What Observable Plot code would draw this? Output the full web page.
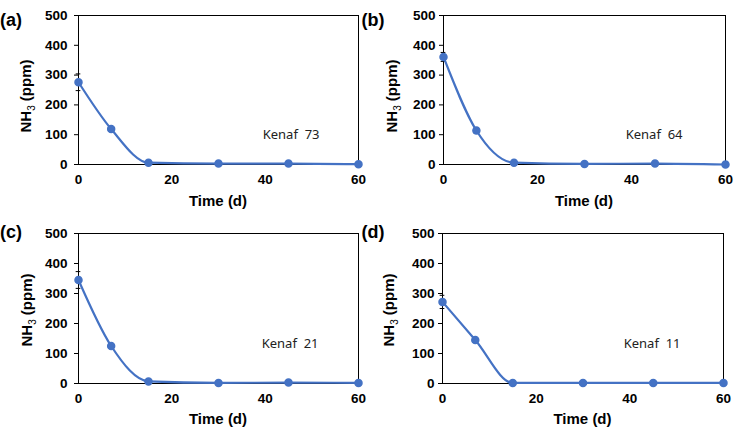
<!DOCTYPE html>
<html><head><meta charset="utf-8">
<script src="https://cdn.jsdelivr.net/npm/d3@7"></script>
<script src="https://cdn.jsdelivr.net/npm/@observablehq/plot@0.6"></script>
<style>
body{margin:0;background:#fff;}
#chart{position:relative;width:746px;height:445px;background:#fff;}
#chart svg{position:absolute;}
</style></head><body><div id="chart"></div>
<script>
// ---- data ----
const days = [0, 7, 15, 30, 45, 60];
const panelIds = ["(a)", "(b)", "(c)", "(d)"];
const varieties = ["Kenaf\u00a0\u00a073", "Kenaf\u00a0\u00a064", "Kenaf\u00a0\u00a021", "Kenaf\u00a0\u00a011"];
const nh3A = [276, 119, 6, 3, 3, 1];
const nh3B = [361, 114, 6, 2, 3, 0];
const nh3C = [345, 125, 7, 2, 3, 2];
const nh3D = [272, 145, 2, 2, 2, 2];
const errA = [28, 8, 2, 1, 1, 1];
const errB = [15, 8, 2, 1, 1, 1];
const errC = [28, 8, 2, 1, 1, 1];
const errD = [22, 8, 2, 1, 1, 1];
const yTicks = [0, 100, 200, 300, 400, 500];
const xTicks = [0, 20, 40, 60];
const xLabel = "Time (d)";

const seriesValues = [nh3A, nh3B, nh3C, nh3D];
const seriesErrors = [errA, errB, errC, errD];

// ---- layout (styles) ----
const layouts = [
  {left:0,   top:0,   w:373, h:222, ml:78, mr:15, mt:15, mb:58, ypad:7, xpad:10, tdx:-39, tdy:-26, timeY:202, nhX:31, nhY:96,  idX:11, idY:21},
  {left:373, top:0,   w:373, h:222, ml:70, mr:21, mt:15, mb:58, ypad:4, xpad:10, tdx:-43, tdy:-26, timeY:202, nhX:24, nhY:96,  idX:0,  idY:21},
  {left:0,   top:222, w:373, h:223, ml:78, mr:15, mt:11, mb:62, ypad:7, xpad:10, tdx:-40, tdy:-36, timeY:198, nhX:32, nhY:88,  idX:11, idY:11},
  {left:373, top:222, w:373, h:223, ml:69, mr:23, mt:11, mb:62, ypad:4, xpad:10, tdx:-43, tdy:-36, timeY:198, nhX:21, nhY:88,  idX:0,  idY:11}
];

const blue = "#4472C4";
const chart = document.getElementById("chart");

seriesValues.forEach((vals, k) => {
  const L = layouts[k];
  const errs = seriesErrors[k];
  const data = days.map((d, i) => ({day: d, v: vals[i], e: errs[i]}));
  const svg = Plot.plot({
    width: L.w, height: L.h,
    marginLeft: L.ml, marginRight: L.mr, marginTop: L.mt, marginBottom: L.mb,
    style: {fontFamily: "'Liberation Sans', Arial, sans-serif", fontSize: "13.5px", fontWeight: "bold", color: "#000", background: "transparent", overflow: "visible"},
    x: {domain: [0, 60], label: null},
    y: {domain: [0, 500], label: null},
    marks: [
      Plot.axisX({ticks: xTicks, tickSize: 0, tickPadding: L.xpad, label: null}),
      Plot.axisY({ticks: yTicks, tickSize: 4, tickPadding: L.ypad, label: null, stroke: "#000"}),
      Plot.frame({stroke: "#000", strokeWidth: 1}),
      Plot.ruleX(data, {x: "day", y1: d => d.v - d.e, y2: d => d.v + d.e, stroke: "#000", strokeWidth: 1}),
      Plot.ruleY(data, {y: d => d.v + d.e, x1: d => d.day - 0.5, x2: d => d.day + 0.5, stroke: "#000", strokeWidth: 1}),
      Plot.ruleY(data, {y: d => d.v - d.e, x1: d => d.day - 0.5, x2: d => d.day + 0.5, stroke: "#000", strokeWidth: 1}),
      Plot.line(data, {x: "day", y: "v", curve: "monotone-x", stroke: blue, strokeWidth: 2.2}),
      Plot.dot(data, {x: "day", y: "v", r: 3.5, fill: blue, stroke: blue}),
      Plot.text([varieties[k]], {text: d => d, frameAnchor: "bottom-right", dx: L.tdx, dy: L.tdy, textAnchor: "end",
        fontWeight: "normal", fontFamily: "'Noto Sans', sans-serif", fontSize: 13, fill: "#222"})
    ]
  });
  svg.style.left = L.left + "px";
  svg.style.top = L.top + "px";
  const s = d3.select(svg);
  s.append("text")
    .attr("x", L.ml + (L.w - L.ml - L.mr) / 2).attr("y", L.timeY)
    .attr("text-anchor", "middle").attr("dominant-baseline", "middle")
    .style("font-family", "'Liberation Sans', Arial, sans-serif").style("font-size", "15px").style("font-weight", "bold")
    .attr("fill", "#000").text(xLabel);
  const t = s.append("text")
    .attr("transform", `translate(${L.nhX},${L.nhY}) rotate(-90)`)
    .attr("text-anchor", "middle")
    .style("font-family", "'Liberation Sans', Arial, sans-serif").style("font-size", "15px").style("font-weight", "bold")
    .attr("fill", "#000");
  t.append("tspan").text("NH");
  t.append("tspan").attr("dy", 4).style("font-size", "10px").style("font-weight", "normal").text("3");
  t.append("tspan").attr("dy", -4).text(" (ppm)");
  s.append("text")
    .attr("x", L.idX).attr("y", L.idY)
    .attr("dominant-baseline", "middle")
    .style("font-family", "'Liberation Sans', Arial, sans-serif").style("font-size", "18px").style("font-weight", "bold")
    .attr("fill", "#000").text(panelIds[k]);
  chart.appendChild(svg);
});
</script>
</body></html>
